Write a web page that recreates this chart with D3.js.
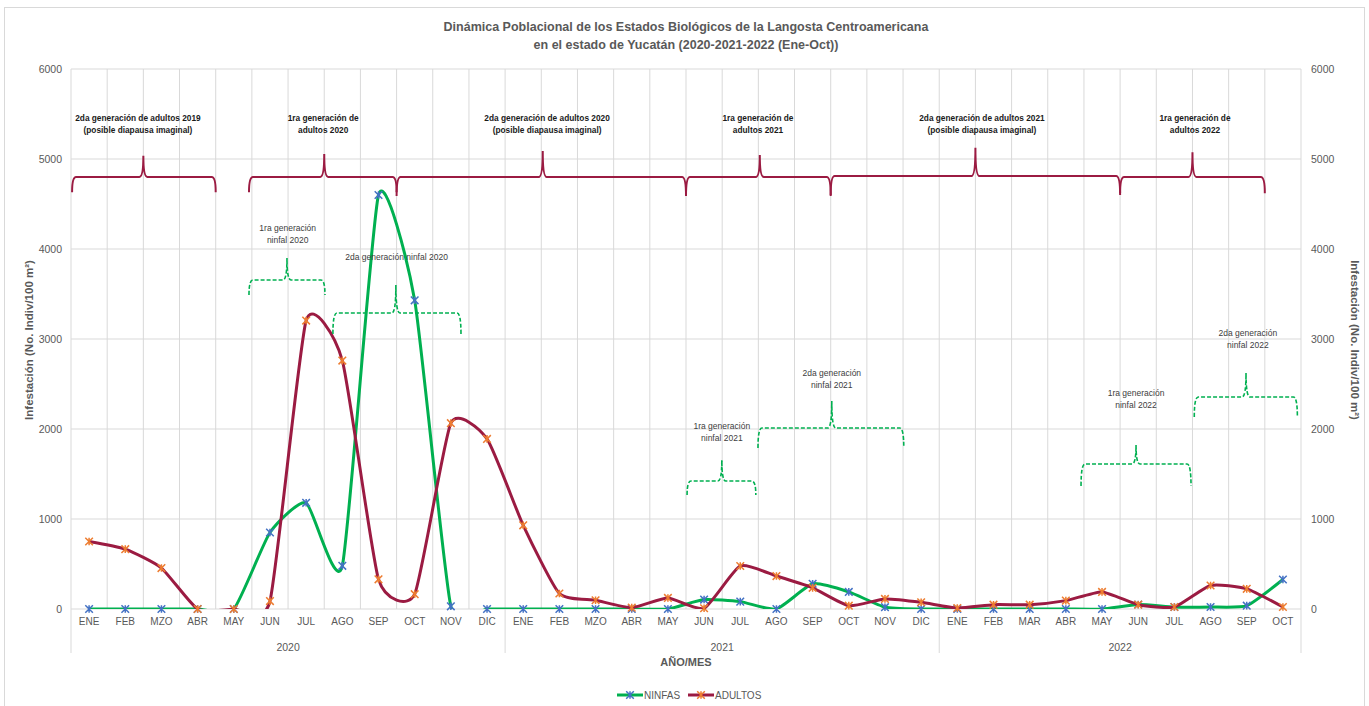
<!DOCTYPE html>
<html>
<head>
<meta charset="utf-8">
<script src="https://cdn.jsdelivr.net/npm/d3@7"></script>
<style>
  body { margin: 0; background: #fff; }
  svg text { font-family: "Liberation Sans", Arial, sans-serif; }
</style>
</head>
<body>
<div id="chart"></div>
<script>
// categories (x axis)
var months = ["ENE","FEB","MZO","ABR","MAY","JUN","JUL","AGO","SEP","OCT","NOV","DIC",
              "ENE","FEB","MZO","ABR","MAY","JUN","JUL","AGO","SEP","OCT","NOV","DIC",
              "ENE","FEB","MAR","ABR","MAY","JUN","JUL","AGO","SEP","OCT"];
var years = ["2020", "2021", "2022"];
var yearMonths = [12, 12, 10];

// series
var ninfas  = [0,0,0,0,0,850,1180,480,4600,3430,30,0,
               0,0,0,0,0,105,82,0,280,190,20,0,
               0,0,0,0,0,50,22,22,37,328];
var adultos = [750,665,455,0,0,88,3205,2760,330,165,2065,1890,
               930,172,97,15,123,8,478,366,235,37,112,75,
               11,48,48,93,190,48,22,261,224,22];

var yTicks = [0,1000,2000,3000,4000,5000,6000];

// annotations, in category units (0 = left edge of ENE 2020) and axis values
var adultBraces = [
  {from: 0.03, to: 4.0,  tip: 2.0,   base: 4800, end: 4630, peak: 5035, lx: 1.85,  ly: 5456, text: ["2da generación de adultos 2019", "(posible diapausa imaginal)"]},
  {from: 4.92, to: 9.0,  tip: 7.0,   base: 4800, end: 4630, peak: 5055, lx: 6.97,  ly: 5456, text: ["1ra generación de", "adultos 2020"]},
  {from: 9.0,  to: 17.0, tip: 13.04, base: 4800, end: 4590, peak: 5090, lx: 13.16, ly: 5456, text: ["2da generación de adultos 2020", "(posible diapausa imaginal)"]},
  {from: 17.0, to: 21.0, tip: 19.04, base: 4800, end: 4590, peak: 5045, lx: 18.99, ly: 5456, text: ["1ra generación de", "adultos 2021"]},
  {from: 21.0, to: 29.0, tip: 25.0,  base: 4810, end: 4600, peak: 5125, lx: 25.18, ly: 5456, text: ["2da generación de adultos 2021", "(posible diapausa imaginal)"]},
  {from: 29.0, to: 33.0, tip: 31.0,  base: 4800, end: 4620, peak: 5075, lx: 31.07, ly: 5456, text: ["1ra generación de", "adultos 2022"]}
];
var nymphBraces = [
  {from: 4.92,  to: 7.02,  tip: 5.97,  base: 3656, end: 3489, peak: 3900, lx: 5.99,  ly: 4233, text: ["1ra generación", "ninfal 2020"]},
  {from: 7.24,  to: 10.78, tip: 8.98,  base: 3289, end: 3056, peak: 3600, lx: 9.0,   ly: 3911, text: ["2da generación ninfal 2020"]},
  {from: 17.03, to: 18.93, tip: 17.99, base: 1422, end: 1267, peak: 1656, lx: 17.99, ly: 2033, text: ["1ra generación", "ninfal 2021"]},
  {from: 18.99, to: 23.02, tip: 21.03, base: 2011, end: 1789, peak: 2311, lx: 21.03, ly: 2622, text: ["2da generación", "ninfal 2021"]},
  {from: 27.92, to: 30.96, tip: 29.44, base: 1611, end: 1367, peak: 1822, lx: 29.44, ly: 2400, text: ["1ra generación", "ninfal 2022"]},
  {from: 31.05, to: 33.9,  tip: 32.48, base: 2356, end: 2133, peak: 2622, lx: 32.53, ly: 3067, text: ["2da generación", "ninfal 2022"]}
];

var W = 1369, H = 706;
var plotL = 71, plotR = 1301, plotT = 69, plotB = 609;
var green = "#00b050", crimson = "#9b1b42";
var txtGray = "#595959";

var svg = d3.select("#chart").append("svg").attr("width", W).attr("height", H);

svg.append("rect").attr("x", 4.5).attr("y", 7.5).attr("width", 1360).attr("height", 705)
  .attr("fill", "#fff").attr("stroke", "#d9d9d9");

var x = d3.scaleBand().domain(d3.range(months.length)).range([plotL, plotR]).padding(0);
var xu = d3.scaleLinear().domain([0, months.length]).range([plotL, plotR]);
var y = d3.scaleLinear().domain([0, 6000]).range([plotB, plotT]);
var cx = function(i) { return x(i) + x.bandwidth() / 2; };

// grid
var grid = svg.append("g");
grid.selectAll(".hg").data(yTicks).enter().append("line")
  .attr("x1", plotL).attr("x2", plotR)
  .attr("y1", function(d) { return y(d); }).attr("y2", function(d) { return y(d); })
  .attr("stroke", "#d9d9d9").attr("stroke-width", 1);
grid.selectAll(".vg").data(d3.range(months.length + 1)).enter().append("line")
  .attr("x1", function(d) { return xu(d); }).attr("x2", function(d) { return xu(d); })
  .attr("y1", plotT).attr("y2", plotB)
  .attr("stroke", "#d9d9d9").attr("stroke-width", 1);

// axes
var yl = svg.append("g").attr("transform", "translate(" + plotL + ",0)")
  .call(d3.axisLeft(y).tickValues(yTicks).tickSize(0).tickPadding(9).tickFormat(d3.format("d")));
var yr = svg.append("g").attr("transform", "translate(" + plotR + ",0)")
  .call(d3.axisRight(y).tickValues(yTicks).tickSize(0).tickPadding(10).tickFormat(d3.format("d")));
var xa = svg.append("g").attr("transform", "translate(0," + plotB + ")")
  .call(d3.axisBottom(x).tickSize(0).tickPadding(9).tickFormat(function(d) { return months[d]; }));
[yl, yr, xa].forEach(function(g) {
  g.select(".domain").remove();
  g.selectAll("text").attr("fill", txtGray).style("font-size", "10.5px");
});
xa.selectAll("text").style("font-size", "10px");

// year groups
var starts = [0];
yearMonths.forEach(function(n, i) { starts.push(starts[i] + n); });
svg.selectAll(".ysep").data(starts).enter().append("line")
  .attr("x1", function(d) { return xu(d); }).attr("x2", function(d) { return xu(d); })
  .attr("y1", plotB).attr("y2", 653)
  .attr("stroke", "#d9d9d9");
svg.selectAll(".ylab").data(years).enter().append("text")
  .attr("x", function(d, i) { return xu((starts[i] + starts[i + 1]) / 2); })
  .attr("y", 651).attr("text-anchor", "middle")
  .attr("fill", txtGray).style("font-size", "10.5px").text(function(d) { return d; });

// titles
svg.append("text").attr("x", 686).attr("y", 31).attr("text-anchor", "middle")
  .attr("fill", txtGray).style("font-size", "12.5px").style("font-weight", "bold")
  .text("Dinámica Poblacional  de los Estados Biológicos de la Langosta Centroamericana");
svg.append("text").attr("x", 686).attr("y", 49).attr("text-anchor", "middle")
  .attr("fill", txtGray).style("font-size", "12.5px").style("font-weight", "bold")
  .text("en el estado de Yucatán (2020-2021-2022 (Ene-Oct))");
svg.append("text").attr("x", 686).attr("y", 666).attr("text-anchor", "middle")
  .attr("fill", txtGray).style("font-size", "11px").style("font-weight", "bold").text("AÑO/MES");

var ytitle = "Infestación (No. Indiv/100 m²)";
svg.append("text").attr("transform", "translate(33,340) rotate(-90)").attr("text-anchor", "middle")
  .attr("fill", txtGray).style("font-size", "11.5px").style("font-weight", "bold").text(ytitle);
svg.append("text").attr("transform", "translate(1351,340) rotate(90)").attr("text-anchor", "middle")
  .attr("fill", txtGray).style("font-size", "11.5px").style("font-weight", "bold").text(ytitle);

// clip to plot area
svg.append("clipPath").attr("id", "plotclip").append("rect")
  .attr("x", plotL).attr("y", plotT - 2).attr("width", plotR - plotL).attr("height", plotB - plotT + 2);

var line = d3.line()
  .x(function(d, i) { return cx(i); })
  .y(function(d) { return y(d); })
  .curve(d3.curveCardinal.tension(0.45));

function star(g, px, py, color) {
  var s = 3.8;
  g.append("path")
    .attr("d", "M" + (px - s) + "," + (py - s) + "L" + (px + s) + "," + (py + s) +
               "M" + (px - s) + "," + (py + s) + "L" + (px + s) + "," + (py - s) +
               "M" + px + "," + (py - s) + "L" + px + "," + (py + s))
    .attr("stroke", color).attr("stroke-width", 1.5).attr("fill", "none");
}

var series = [
  {name: "NINFAS", values: ninfas, color: green, marker: "#4472c4"},
  {name: "ADULTOS", values: adultos, color: crimson, marker: "#ed7d31"}
];
series.forEach(function(s) {
  svg.append("path").datum(s.values).attr("d", line)
    .attr("clip-path", "url(#plotclip)")
    .attr("fill", "none").attr("stroke", s.color).attr("stroke-width", 3)
    .attr("stroke-linejoin", "round");
  var mg = svg.append("g");
  s.values.forEach(function(v, i) { star(mg, cx(i), y(v), s.marker); });
});

// braces
function bracePath(b, r) {
  var x0 = xu(b.from), x1 = xu(b.to), xt = xu(b.tip);
  var yb = y(b.base), ye = y(b.end), yp = y(b.peak);
  return "M" + x0 + "," + ye +
    "Q" + x0 + "," + yb + " " + (x0 + r) + "," + yb +
    "L" + (xt - r) + "," + yb +
    "Q" + xt + "," + yb + " " + xt + "," + yp +
    "Q" + xt + "," + yb + " " + (xt + r) + "," + yb +
    "L" + (x1 - r) + "," + yb +
    "Q" + x1 + "," + yb + " " + x1 + "," + ye;
}

svg.selectAll(".abrace").data(adultBraces).enter().append("path")
  .attr("d", function(d) { return bracePath(d, 4); })
  .attr("fill", "none").attr("stroke", crimson).attr("stroke-width", 2);
svg.selectAll(".nbrace").data(nymphBraces).enter().append("path")
  .attr("d", function(d) { return bracePath(d, 4); })
  .attr("fill", "none").attr("stroke", green).attr("stroke-width", 1.6)
  .attr("stroke-dasharray", "4,2");

function labels(data, weight, color, size) {
  data.forEach(function(d) {
    var t = svg.append("text").attr("text-anchor", "middle")
      .attr("fill", color).style("font-size", size).style("font-weight", weight);
    d.text.forEach(function(s, k) {
      t.append("tspan").attr("x", xu(d.lx)).attr("y", y(d.ly) + 3 + k * 12).text(s);
    });
  });
}
labels(adultBraces, "bold", "#1a1a1a", "8.3px");
labels(nymphBraces, "normal", "#404040", "8.5px");

// legend
var leg = [{name: "NINFAS", color: green, marker: "#4472c4", x: 617},
           {name: "ADULTOS", color: crimson, marker: "#ed7d31", x: 688}];
leg.forEach(function(l) {
  svg.append("line").attr("x1", l.x).attr("x2", l.x + 26).attr("y1", 695).attr("y2", 695)
    .attr("stroke", l.color).attr("stroke-width", 3);
  star(svg, l.x + 13, 695, l.marker);
  svg.append("text").attr("x", l.x + 27).attr("y", 699).attr("fill", txtGray)
    .style("font-size", "10px").text(l.name);
});
</script>
</body>
</html>
